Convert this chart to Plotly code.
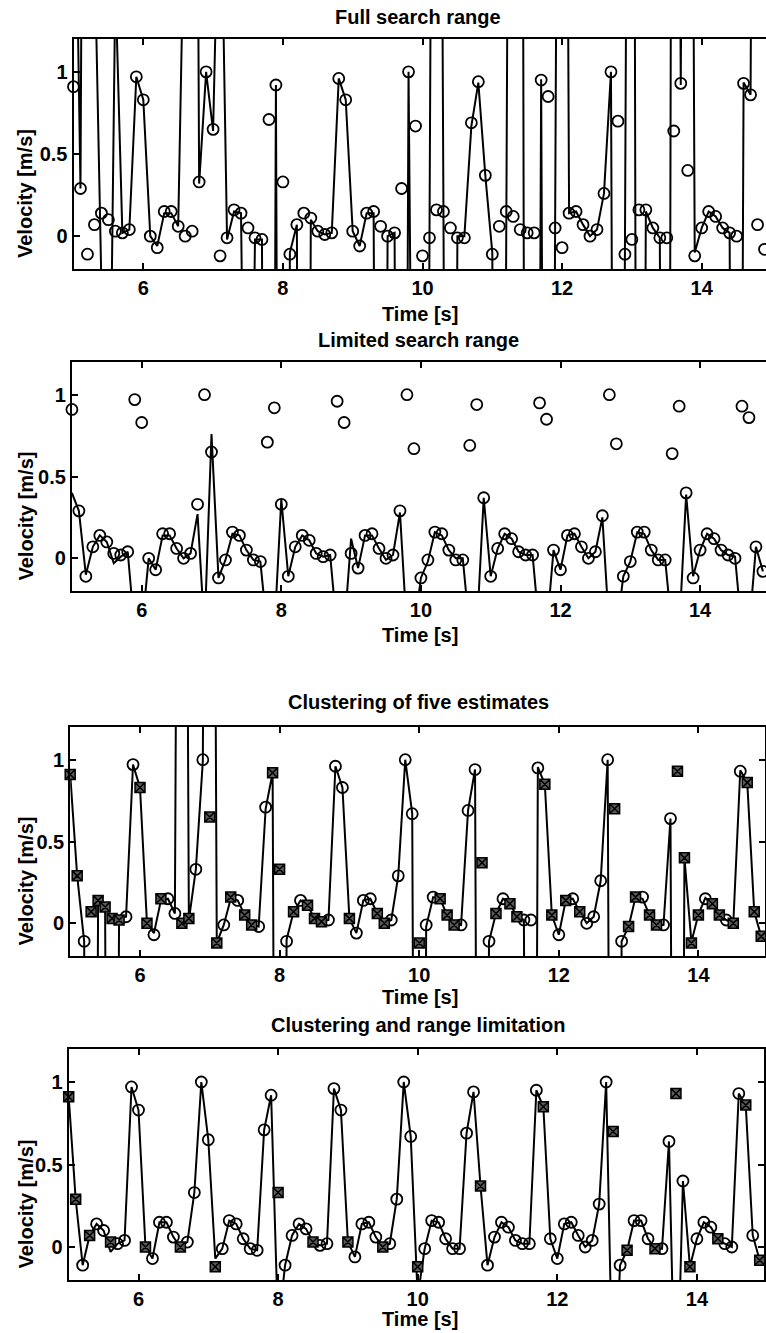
import plotly.graph_objects as go

W, H = 766, 1333

# sample times [s]
t = [5.0, 5.1, 5.2, 5.3, 5.4, 5.5, 5.6, 5.7, 5.8, 5.9,
     6.0, 6.1, 6.2, 6.3, 6.4, 6.5, 6.6, 6.7, 6.8, 6.9,
     7.0, 7.1, 7.2, 7.3, 7.4, 7.5, 7.6, 7.7, 7.8, 7.9,
     8.0, 8.1, 8.2, 8.3, 8.4, 8.5, 8.6, 8.7, 8.8, 8.9,
     9.0, 9.1, 9.2, 9.3, 9.4, 9.5, 9.6, 9.7, 9.8, 9.9,
     10.0, 10.1, 10.2, 10.3, 10.4, 10.5, 10.6, 10.7, 10.8, 10.9,
     11.0, 11.1, 11.2, 11.3, 11.4, 11.5, 11.6, 11.7, 11.8, 11.9,
     12.0, 12.1, 12.2, 12.3, 12.4, 12.5, 12.6, 12.7, 12.8, 12.9,
     13.0, 13.1, 13.2, 13.3, 13.4, 13.5, 13.6, 13.7, 13.8, 13.9,
     14.0, 14.1, 14.2, 14.3, 14.4, 14.5, 14.6, 14.7, 14.8, 14.9]

# reference velocity (circles) [m/s]
v_ref = [0.91, 0.29, -0.11, 0.07, 0.14, 0.10, 0.03, 0.02, 0.04, 0.97,
         0.83, 0.00, -0.07, 0.15, 0.15, 0.06, 0.00, 0.03, 0.33, 1.00,
         0.65, -0.12, -0.01, 0.16, 0.14, 0.05, -0.01, -0.02, 0.71, 0.92,
         0.33, -0.11, 0.07, 0.14, 0.11, 0.03, 0.01, 0.02, 0.96, 0.83,
         0.03, -0.06, 0.14, 0.15, 0.06, 0.00, 0.02, 0.29, 1.00, 0.67,
         -0.12, -0.01, 0.16, 0.15, 0.05, -0.01, -0.01, 0.69, 0.94, 0.37,
         -0.11, 0.06, 0.15, 0.12, 0.04, 0.02, 0.02, 0.95, 0.85, 0.05,
         -0.07, 0.14, 0.15, 0.07, 0.00, 0.04, 0.26, 1.00, 0.70, -0.11,
         -0.02, 0.16, 0.16, 0.05, -0.01, -0.01, 0.64, 0.93, 0.40, -0.12,
         0.05, 0.15, 0.12, 0.05, 0.02, 0.00, 0.93, 0.86, 0.07, -0.08]

# velocity estimates, full search range
est_full = [3.0, 0.29, 9.0, 1.8, -0.3, -2.0, 1.55, 0.02, 0.04, 0.97,
            0.83, 0.00, -0.06, 0.14, 0.14, 0.06, 2.3, 9.0, 0.32, 1.00,
            0.64, 2.5, -0.02, 0.15, 0.14, -3.3, -0.02, -0.02, -10.0, 0.92,
            -10.0, -0.10, 0.07, -10.0, 0.10, 0.03, 0.01, 0.02, 0.96, 0.83,
            0.03, -0.06, 0.14, 0.14, -9.0, 0.00, 0.02, -9.0, 1.00, -9.0,
            -9.0, -0.02, 9.0, 0.15, -9.0, 0.00, 0.00, 0.67, 0.935, 0.37,
            -0.10, -9.0, 0.15, 9.0, 9.0, -9.0, -9.0, 0.955, -9.0, 0.05,
            9.0, 0.14, 0.15, 0.07, 0.00, 0.04, 0.26, 1.00, -9.0, -0.10,
            9.0, -9.0, 0.15, 0.05, -0.01, -9.0, 9.0, 0.92, 9.0, -0.10,
            0.05, 0.15, 0.12, 0.05, 0.02, -9.0, 0.935, 0.86, 9.0, 9.0]

# velocity estimates, limited search range
est_limited = [0.40, 0.29, -0.10, 0.07, 0.14, 0.10, -0.03, 0.01, 0.04, -0.45,
               -0.45, 0.00, -0.07, 0.14, 0.14, 0.06, 0.00, 0.03, 0.27, -0.45,
               0.76, -0.12, -0.01, 0.15, 0.14, 0.05, -0.01, -0.02, -0.45, -0.45,
               0.36, -0.11, 0.07, 0.14, 0.11, 0.03, 0.01, 0.02, -0.45, -0.45,
               0.12, -0.06, 0.14, 0.14, 0.06, -0.01, 0.02, 0.28, -0.45, -0.45,
               -0.12, -0.02, 0.16, 0.14, 0.05, 0.00, 0.00, -0.45, -0.45, 0.37,
               -0.11, 0.06, 0.15, 0.12, 0.04, 0.02, 0.02, -0.45, -0.45, 0.05,
               -0.07, 0.14, 0.15, 0.07, 0.00, 0.04, 0.25, -0.45, -0.45, -0.11,
               -0.02, 0.16, 0.15, 0.05, -0.01, -0.01, -0.45, -0.45, 0.39, -0.11,
               0.05, 0.15, 0.12, 0.05, 0.02, 0.01, -0.45, -0.45, 0.07, -0.08]

# velocity estimates, clustering of five estimates
est_cluster = [0.91, 0.29, -0.11, -9.0, 0.14, 0.10, -9.0, 0.03, 0.04, 0.97,
               0.83, 0.00, -0.06, 0.14, 0.15, 0.06, 9.0, 0.02, 0.33, 0.99,
               9.0, -0.12, -0.01, 0.15, 0.14, 0.05, -0.01, -0.02, 0.70, 0.92,
               -9.0, -0.10, 0.07, 0.14, 0.11, 0.03, 0.01, 0.02, 0.96, 0.83,
               0.03, -0.06, 0.14, 0.15, 0.06, 0.00, 0.02, 0.29, 1.00, 0.67,
               -9.0, -0.02, 0.16, 0.15, 0.05, 0.00, -0.01, 0.69, 0.94, -9.0,
               -0.11, 0.06, 0.15, 0.12, 0.04, 0.02, -9.0, 0.955, 0.85, 0.05,
               -0.07, 0.14, 0.15, 0.07, 0.00, 0.04, 0.26, 1.00, -9.0, -0.11,
               -0.02, 0.16, 0.15, 0.05, -0.01, -0.01, 0.64, -9.0, 0.40, -0.115,
               0.055, 0.155, 0.12, 0.05, 0.02, 0.00, 0.935, 0.86, 0.07, -0.08]

# velocity estimates, clustering and range limitation
est_cluster_lim = [0.91, 0.29, -0.11, 0.07, 0.14, 0.10, -0.03, 0.02, 0.04, 0.97,
                   0.83, 0.00, -0.07, 0.15, 0.15, 0.06, 0.00, 0.03, 0.33, 1.00,
                   0.65, -0.07, -0.01, 0.16, 0.14, 0.05, -0.01, -0.02, 0.71, 0.92,
                   -0.5, -0.11, 0.07, 0.14, 0.11, 0.03, 0.01, 0.02, 0.96, 0.83,
                   0.03, -0.06, 0.14, 0.15, 0.06, 0.00, 0.02, 0.29, 1.00, 0.67,
                   -0.3, -0.01, 0.16, 0.15, 0.05, -0.01, -0.01, 0.69, 0.94, 0.37,
                   -0.11, 0.06, 0.15, 0.12, 0.04, 0.02, 0.02, 0.95, 0.85, 0.05,
                   -0.07, 0.14, 0.15, 0.07, 0.00, 0.04, 0.26, 1.00, -1.0, -0.11,
                   -0.02, 0.16, 0.16, 0.05, -0.01, -0.01, 0.64, -1.2, 0.40, -0.12,
                   0.05, 0.15, 0.12, 0.05, 0.02, 0.00, 0.93, 0.86, 0.07, -0.08]

# samples flagged by the clustering step (drawn as crossed squares)
flag_cluster = [0, 1, 3, 4, 5, 6, 7, 10, 11, 13, 16, 17, 20, 21, 23, 25, 26, 29, 30,
                32, 34, 35, 36, 40, 44, 45, 50, 53, 54, 55, 59, 61, 63, 64, 68, 69,
                71, 73, 78, 80, 81, 83, 84, 87, 88, 89, 90, 92, 93, 95, 97, 98, 99]
flag_cluster_lim = [0, 1, 3, 6, 11, 16, 21, 30, 35, 40, 45, 50, 59, 68, 78, 80,
                    84, 87, 89, 93, 97, 99]

titles = ["Full search range", "Limited search range",
          "Clustering of five estimates", "Clustering and range limitation"]
x_tickvals = [6, 8, 10, 12, 14]
y_tickvals = [0, 0.5, 1]
y_ticktext = ["0", "0.5", "1"]
Y_RANGE = [-0.2, 1.2]
T_START = 5.0

estimates = [est_full, est_limited, est_cluster, est_cluster_lim]
flags = [[], [], flag_cluster, flag_cluster_lim]

# panel boxes in page pixels
PX_PER_S = 69.8
boxes = [
    dict(l=73.5, r=766, top=39, bot=269, frame=False, ty=17, xl=314),
    dict(l=71.9, r=766, top=362, bot=591, frame=False, ty=340, xl=635),
    dict(l=70.2, r=765, top=727, bot=956, frame=True, ty=702, xl=997),
    dict(l=68.7, r=764, top=1049, bot=1280, frame=True, ty=1025, xl=1319),
]

FONT = dict(family="Liberation Sans, Arial, sans-serif", size=20, color="black",
            weight="bold")

fig = go.Figure()
layout = dict(width=W, height=H, margin=dict(l=0, r=0, t=0, b=0),
              paper_bgcolor="white", plot_bgcolor="white", showlegend=False,
              annotations=[])

for i, (b, est, flg, title) in enumerate(zip(boxes, estimates, flags, titles)):
    n = "" if i == 0 else str(i + 1)
    xa, ya = "x" + n, "y" + n
    fig.add_trace(go.Scatter(x=t, y=est, mode="lines", xaxis=xa, yaxis=ya,
                             line=dict(color="black", width=2), hoverinfo="skip"))
    circ_x = [t[k] for k in range(len(t)) if k not in flg]
    circ_y = [v_ref[k] for k in range(len(t)) if k not in flg]
    fig.add_trace(go.Scatter(x=circ_x, y=circ_y, mode="markers", xaxis=xa, yaxis=ya,
                             cliponaxis=False,
                             marker=dict(symbol="circle-open", size=11, color="black",
                                         line=dict(width=1.8, color="black"))))
    if flg:
        fig.add_trace(go.Scatter(x=[t[k] for k in flg], y=[v_ref[k] for k in flg],
                                 mode="markers", xaxis=xa, yaxis=ya, cliponaxis=False,
                                 marker=dict(symbol="square-x", size=10, color="#5a5a5a",
                                             line=dict(width=1.5, color="black"))))

    common = dict(showline=True, linecolor="black", linewidth=2, ticks="inside",
                  ticklen=6, tickwidth=1.6, tickcolor="black", showgrid=False,
                  zeroline=False, tickfont=FONT)
    layout["xaxis" + n] = dict(
        common, domain=[b["l"] / W, b["r"] / W],
        range=[T_START, T_START + (b["r"] - b["l"]) / PX_PER_S],
        tickvals=x_tickvals, mirror="ticks", anchor=ya, ticklabelstandoff=0)
    layout["yaxis" + n] = dict(
        common, domain=[1 - b["bot"] / H, 1 - b["top"] / H], range=Y_RANGE,
        tickvals=y_tickvals, ticktext=y_ticktext,
        mirror="ticks" if b["frame"] else False, anchor=xa)

    layout["annotations"] += [
        dict(text=title, x=0.546, y=1 - b["ty"] / H, xref="paper", yref="paper",
             showarrow=False, font=FONT, xanchor="center", yanchor="middle"),
        dict(text="Time [s]", x=420 / W, y=1 - b["xl"] / H, xref="paper", yref="paper",
             showarrow=False, font=FONT, xanchor="center", yanchor="middle"),
        dict(text="Velocity [m/s]", x=25 / W,
             y=1 - ((b["top"] + b["bot"]) / 2 + 40) / H, xref="paper", yref="paper",
             showarrow=False, font=FONT, textangle=-90,
             xanchor="center", yanchor="middle"),
    ]

fig.update_layout(**layout)
fig.write_html("out.html")
